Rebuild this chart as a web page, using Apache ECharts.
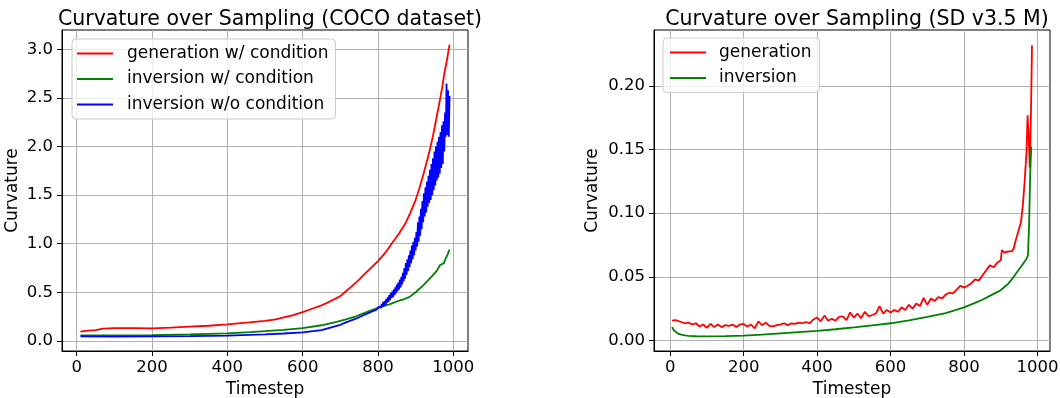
<!DOCTYPE html>
<html><head><meta charset="utf-8">
<script src="https://cdn.jsdelivr.net/npm/echarts@6/dist/echarts.min.js"></script>
<style>html,body{margin:0;padding:0;background:#fff}#c{width:1060px;height:398px}</style>
</head><body><div id="c"></div>
<script>
// ---- Left panel: COCO dataset ----
const cocoTitle = 'Curvature over Sampling (COCO dataset)';
const cocoNames = ['generation w/ condition', 'inversion w/ condition', 'inversion w/o condition'];
const cocoGenT = [10,30,50,70,100,150,200,250,300,350,400,458,500,528,550,575,600,625,650,662,680,700,715,730,750,760,780,800,820,838,855,873,886,899,910,921,930,939,946,952,958,965,971,976,983,990];
const cocoGenV = [0.095,0.105,0.11,0.125,0.13,0.13,0.128,0.135,0.145,0.155,0.17,0.19,0.205,0.22,0.24,0.265,0.295,0.33,0.365,0.385,0.42,0.46,0.51,0.56,0.63,0.67,0.745,0.82,0.91,1.01,1.1,1.21,1.32,1.44,1.57,1.72,1.85,1.99,2.11,2.23,2.35,2.49,2.62,2.75,2.89,3.05];
const cocoInvT = [10,100,200,300,400,460,500,550,600,650,690,715,740,760,780,800,830,850,870,883,900,920,940,956,965,970,975,980,985,990];
const cocoInvV = [0.055,0.056,0.059,0.066,0.077,0.09,0.1,0.113,0.13,0.16,0.195,0.22,0.25,0.28,0.31,0.34,0.375,0.405,0.43,0.45,0.5,0.57,0.65,0.72,0.78,0.8,0.8,0.85,0.89,0.94];
const cocoUncT = [10,100,200,300,400,458,500,550,600,650,700,715,740,760,780,796,
  800,802,804,806,808,810,812,814,816,818,820,822,824,826,828,830,832,834,836,838,
  840,842,844,846,848,850,852,854,856,858,860,862,864,866,868,870,872,874,876,878,
  880,882,884,886,888,890,892,894,896,898,900,902,904,906,908,910,912,914,916,918,
  920,922,924,926,928,930,932,934,936,938,940,942,944,946,948,950,952,954,956,958,
  960,962,964,966,968,970,972,974,976,978,980,982,984,986,988,990];
const cocoUncV = [0.045,0.044,0.045,0.048,0.054,0.062,0.067,0.075,0.086,0.11,0.165,0.19,0.225,0.26,0.295,0.32,
  0.31,0.35,0.33,0.37,0.34,0.38,0.35,0.40,0.36,0.41,0.37,0.43,0.39,0.45,0.40,0.47,0.42,0.49,0.44,0.51,
  0.45,0.53,0.47,0.55,0.49,0.58,0.51,0.60,0.53,0.63,0.55,0.66,0.58,0.70,0.61,0.75,0.64,0.80,0.68,0.84,
  0.72,0.88,0.76,0.93,0.80,0.98,0.84,1.02,0.88,1.06,0.93,1.12,0.97,1.22,1.02,1.28,1.08,1.36,1.15,1.44,
  1.22,1.52,1.28,1.58,1.32,1.64,1.38,1.70,1.42,1.76,1.45,1.82,1.50,1.88,1.55,1.95,1.60,2.00,1.65,2.05,
  1.68,2.10,1.72,2.15,1.78,2.22,1.82,2.26,1.95,2.35,2.10,2.65,2.12,2.58,2.10,2.52];
const cocoXTicks = [0,200,400,600,800,1000];
const cocoYTicks = [0,0.5,1.0,1.5,2.0,2.5,3.0];

// ---- Right panel: SD v3.5 M ----
const sdTitle = 'Curvature over Sampling (SD v3.5 M)';
const sdNames = ['generation', 'inversion'];
const sdGenT = [5,10,15,20,30,40,50,60,70,80,90,100,110,120,130,140,150,160,170,180,190,200,210,220,230,240,250,260,270,280,290,300,
  310,320,330,340,350,360,370,380,390,400,410,420,430,440,450,460,470,480,490,500,510,520,530,540,550,560,570,580,590,600,
  610,620,630,640,650,660,670,680,690,700,710,720,730,740,750,760,770,780,790,800,810,820,830,840,850,860,870,880,890,900,
  903,910,920,930,935,940,950,955,960,965,970,973,976,979,982,985];
const sdGenV = [0.0155,0.0165,0.016,0.015,0.0145,0.0135,0.014,0.0125,0.0135,0.011,0.0125,0.010,0.013,0.0105,0.0125,0.0105,0.012,0.0115,0.0125,0.0105,0.0125,0.013,0.011,0.0125,0.0095,0.015,0.012,0.014,0.0115,0.011,0.012,0.0125,
  0.0135,0.012,0.0135,0.013,0.014,0.0135,0.0145,0.0135,0.0165,0.018,0.015,0.0195,0.0155,0.017,0.0155,0.0185,0.019,0.016,0.022,0.018,0.021,0.0175,0.0225,0.019,0.02,0.021,0.027,0.021,0.024,0.022,
  0.024,0.0225,0.026,0.024,0.028,0.025,0.029,0.027,0.0335,0.028,0.033,0.031,0.034,0.033,0.036,0.0375,0.037,0.040,0.043,0.0415,0.043,0.045,0.048,0.047,0.051,0.055,0.059,0.0575,0.061,0.063,
  0.071,0.069,0.070,0.070,0.072,0.078,0.088,0.093,0.106,0.125,0.148,0.177,0.16,0.136,0.175,0.232];
const sdInvT = [5,10,15,20,30,40,50,70,100,150,200,250,300,350,400,450,500,550,600,650,700,750,800,830,850,870,890,900,910,920,930,940,950,960,970,974,977,980,983];
const sdInvV = [0.0105,0.008,0.0065,0.0055,0.0045,0.004,0.0036,0.0033,0.0032,0.0034,0.0038,0.0045,0.0055,0.0065,0.0075,0.0088,0.0102,0.0118,0.0135,0.0158,0.0185,0.0215,0.026,0.0295,0.032,0.035,0.038,0.0395,0.042,0.0445,0.048,0.052,0.056,0.060,0.064,0.067,0.09,0.13,0.1525];
const sdXTicks = [0,200,400,600,800,1000];
const sdYTicks = [0,0.05,0.10,0.15,0.20];

const colors = ['#ff0000', '#008000', '#0000ff'];
const FONT = 'DejaVu Sans';
const pairs = (t, v) => t.map((x, i) => [x, v[i]]);

function xAxis(gi, min, max, ticks) {
  return {
    type: 'value', gridIndex: gi, min: min, max: max,
    axisLine: { show: true, onZero: false, lineStyle: { color: '#000', width: 1 } },
    axisTick: { show: true, length: 5, lineStyle: { color: '#000', width: 1 }, customValues: ticks },
    axisLabel: { customValues: ticks, color: '#000', fontSize: 16.5, fontFamily: FONT, margin: 8,
      formatter: v => String(v) },
    splitLine: { show: true, lineStyle: { color: '#b0b0b0', width: 1 } },
    name: 'Timestep', nameLocation: 'middle', nameGap: 25,
    nameTextStyle: { color: '#000', fontSize: 17, fontFamily: FONT }
  };
}
function yAxis(gi, min, max, ticks, dec, gap) {
  return {
    type: 'value', gridIndex: gi, min: min, max: max,
    axisLine: { show: true, onZero: false, lineStyle: { color: '#000', width: 1 } },
    axisTick: { show: true, length: 5, lineStyle: { color: '#000', width: 1 }, customValues: ticks },
    axisLabel: { customValues: ticks, color: '#000', fontSize: 16.5, fontFamily: FONT, margin: 9,
      formatter: v => Number(v).toFixed(dec) },
    splitLine: { show: true, lineStyle: { color: '#b0b0b0', width: 1 } },
    name: 'Curvature', nameLocation: 'middle', nameGap: gap,
    nameTextStyle: { color: '#000', fontSize: 17, fontFamily: FONT }
  };
}
function line(name, data, color, xi) {
  return { type: 'line', name: name, data: data, xAxisIndex: xi, yAxisIndex: xi,
    symbol: 'none', showSymbol: false, smooth: false,
    lineStyle: { color: color, width: 1.8 }, itemStyle: { color: color } };
}
const legendCommon = {
  orient: 'vertical', icon: 'rect', itemWidth: 36, itemHeight: 2, itemGap: 8.5,
  backgroundColor: 'rgba(255,255,255,0.8)', borderColor: '#cccccc', borderWidth: 1, borderRadius: 4,
  textStyle: { color: '#000', fontSize: 17, fontFamily: FONT, padding: [0, 0, 0, 9] }
};

const chart = echarts.init(document.getElementById('c'), null, { renderer: 'canvas' });
chart.setOption({
  animation: false,
  backgroundColor: '#fff',
  title: [
    { text: cocoTitle, left: 265, top: 4, textAlign: 'center',
      textStyle: { fontSize: 20.5, fontWeight: 'normal', fontFamily: FONT, color: '#000' } },
    { text: sdTitle, left: 852, top: 4, textAlign: 'center',
      textStyle: { fontSize: 20.5, fontWeight: 'normal', fontFamily: FONT, color: '#000' } }
  ],
  legend: [
    Object.assign({}, legendCommon, { left: 72, top: 39, padding: [6, 7, 6, 5], data: cocoNames }),
    Object.assign({}, legendCommon, { left: 663, top: 38, padding: [6, 8, 6, 7], textStyle: Object.assign({}, legendCommon.textStyle, { padding: [0, 0, 0, 8] }), data: sdNames })
  ],
  grid: [
    { left: 62, top: 30, width: 406, height: 321, show: true, borderColor: '#000', borderWidth: 1, backgroundColor: 'transparent', outerBoundsMode: 'none' },
    { left: 654, top: 30, width: 396, height: 321, show: true, borderColor: '#000', borderWidth: 1, backgroundColor: 'transparent', outerBoundsMode: 'none' }
  ],
  xAxis: [ xAxis(0, -39, 1039, cocoXTicks), xAxis(1, -44, 1034, sdXTicks) ],
  yAxis: [ yAxis(0, -0.105, 3.2, cocoYTicks, 1, 41), yAxis(1, -0.0083, 0.244, sdYTicks, 2, 53) ],
  series: [
    line(cocoNames[0], pairs(cocoGenT, cocoGenV), colors[0], 0),
    line(cocoNames[1], pairs(cocoInvT, cocoInvV), colors[1], 0),
    line(cocoNames[2], pairs(cocoUncT, cocoUncV), colors[2], 0),
    line(sdNames[0], pairs(sdGenT, sdGenV), colors[0], 1),
    line(sdNames[1], pairs(sdInvT, sdInvV), colors[1], 1)
  ]
});
</script></body></html>
